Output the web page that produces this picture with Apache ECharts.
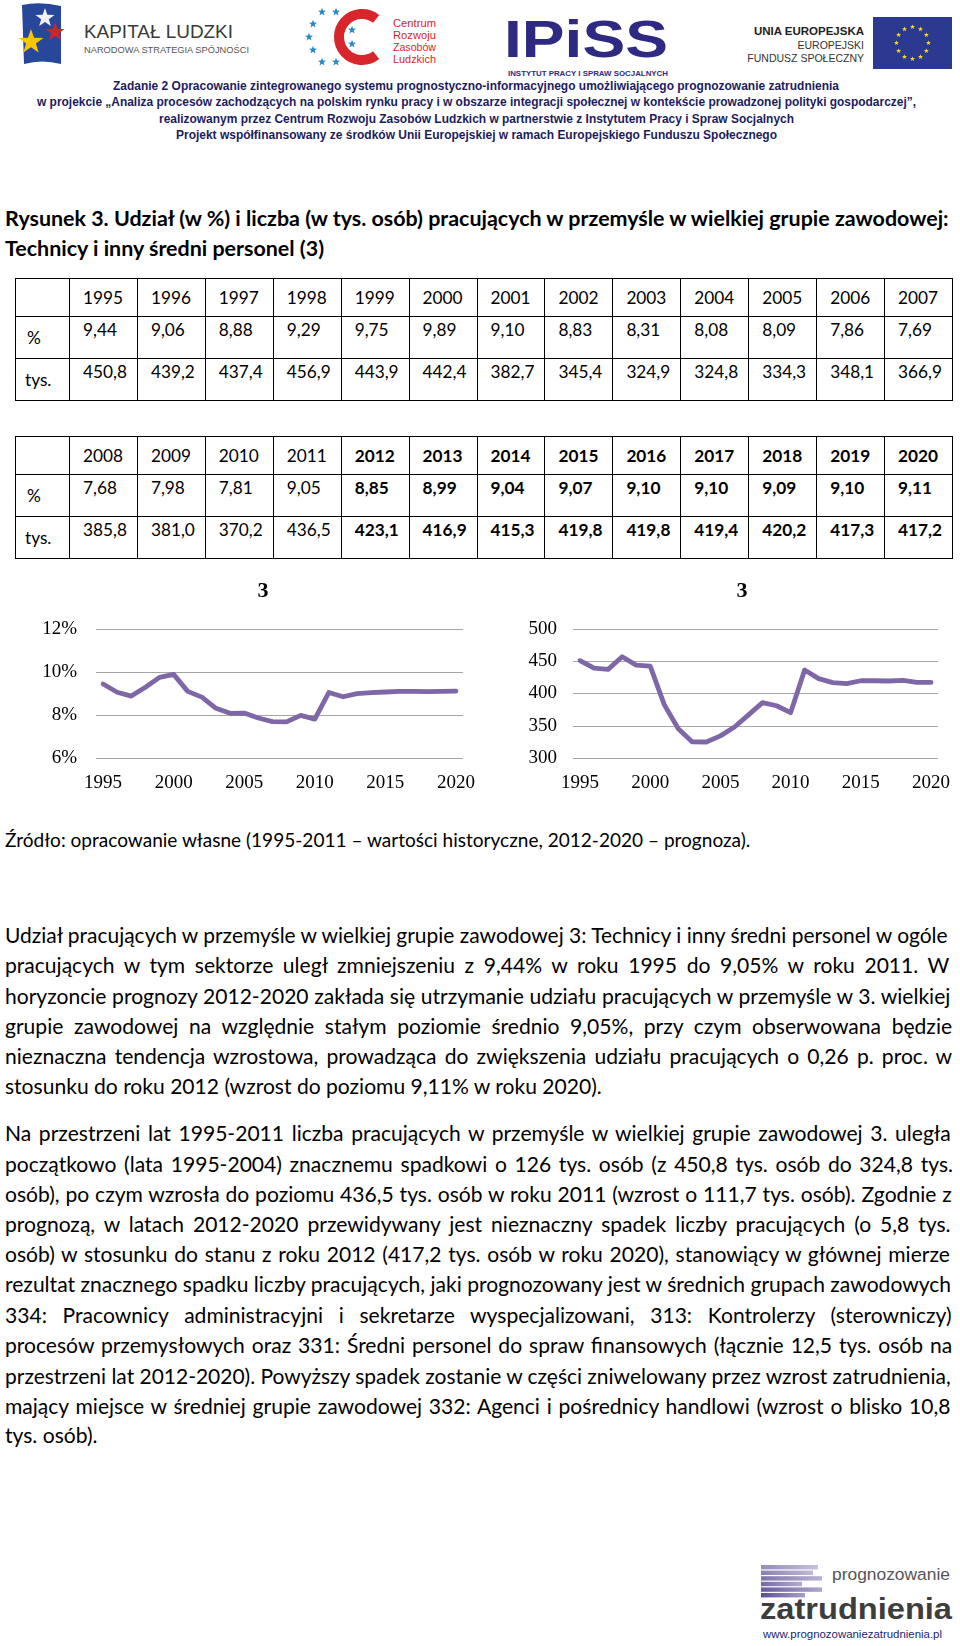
<!DOCTYPE html>
<html><head><meta charset="utf-8">
<script src="https://cdn.jsdelivr.net/npm/echarts@6/dist/echarts.min.js"></script>
<style>
html,body{margin:0;padding:0;background:#fff;width:960px;height:1646px;overflow:hidden;position:relative}
#deco{position:absolute;left:0;top:0;pointer-events:none}
.cell{position:absolute;box-sizing:border-box;border:1px solid #000;color:#000;white-space:nowrap;overflow:hidden}
</style></head><body>
<svg id="deco" width="960" height="1646" xmlns="http://www.w3.org/2000/svg"></svg>
<div id="chart" style="position:absolute;left:0;top:560px;width:960px;height:240px"></div>
<script>
// ---------- DATA ----------
const years = [1995,1996,1997,1998,1999,2000,2001,2002,2003,2004,2005,2006,2007,2008,2009,2010,2011,2012,2013,2014,2015,2016,2017,2018,2019,2020];
const pctValues = [9.44,9.06,8.88,9.29,9.75,9.89,9.10,8.83,8.31,8.08,8.09,7.86,7.69,7.68,7.98,7.81,9.05,8.85,8.99,9.04,9.07,9.10,9.10,9.09,9.10,9.11];
const tysValues = [450.8,439.2,437.4,456.9,443.9,442.4,382.7,345.4,324.9,324.8,334.3,348.1,366.9,385.8,381.0,370.2,436.5,423.1,416.9,415.3,419.8,419.8,419.4,420.2,417.3,417.2];
const forecastStart = 2012;
const pctTicks = [6,8,10,12];
const tysTicks = [300,350,400,450,500];
const chartTitle = '3';

// ---------- helpers ----------
const SANS = "'Lato', 'Carlito', sans-serif";
const NARROWF = "Liberation Sans Narrow, Liberation Sans, sans-serif";
const SERIF = "'Liberation Serif', 'Times New Roman', serif";
const mctx = document.createElement('canvas').getContext('2d');
function tw(text, font){ mctx.font = font; return mctx.measureText(text).width; }
function fitSize(text, weight, family, target){ return 100*target/tw(text, weight+' 100px '+family); }
function addLine(text, cy, o){
  let size = o.size;
  const f = s => `${o.weight||400} ${s}px ${o.family}`;
  let nat = tw(text, f(size));
  if (nat > o.width) { size *= o.width/nat; nat = tw(text, f(size)); }
  let ws = 0;
  if (o.justify){ const n=(text.match(/ /g)||[]).length; if(n) ws=(o.width-nat)/n; }
  const d=document.createElement('div');
  d.style.cssText=`position:absolute;left:${o.left}px;top:${cy-15}px;height:30px;line-height:30px;white-space:nowrap;font:${f(size)};word-spacing:${ws}px;color:#000`;
  d.textContent=text; document.body.appendChild(d);
}
function star(cx,cy,R,r,rot){ rot = rot==null?-90:rot; const p=[]; for(let i=0;i<10;i++){const a=(rot+i*36)*Math.PI/180;const rr=i%2?r:R;p.push((cx+rr*Math.cos(a)).toFixed(2)+','+(cy+rr*Math.sin(a)).toFixed(2));} return p.join(' '); }
// svg text, font size fitted so natural width equals target length
function st(text, x, y, fam, weight, len, fill, maxSize, anchor){
  let size = fitSize(text, weight, fam, len);
  if (maxSize && size > maxSize) size = maxSize;
  return `<text x="${x}" y="${y}" ${anchor?`text-anchor="${anchor}"`:''} font-family="${fam}" font-weight="${weight}" font-size="${size.toFixed(2)}" fill="${fill}" textLength="${len}" lengthAdjust="spacingAndGlyphs">${text}</text>`;
}

// ---------- decorative SVG (logos, header) ----------
let s = '';
// Kapitał Ludzki
s += `<path d="M22,5 Q40,1 61,6 L61,64 Q42,59 24,64 Z" fill="#27479b"/>`;
s += `<polygon points="${star(45,18,10,4)}" fill="#f2f2f2"/>`;
s += `<polygon points="${star(55,32,10,4)}" fill="#d3232a"/>`;
s += `<polygon points="${star(31,42,13,5.2)}" fill="#f7c600"/>`;
s += st('KAPITAŁ LUDZKI', 84, 38, NARROWF, 400, 149, '#3a3a3a', 20);
s += st('NARODOWA STRATEGIA SPÓJNOŚCI', 84, 53, NARROWF, 400, 165, '#555', 10.5);
// CRZL
(function(){
  const cx=362, cy=37, r=23;
  const a1=-52*Math.PI/180, a2=52*Math.PI/180;
  s += `<path d="M${cx+r*Math.cos(a1)},${cy+r*Math.sin(a1)} A${r},${r} 0 1 0 ${cx+r*Math.cos(a2)},${cy+r*Math.sin(a2)}" fill="none" stroke="#d7262c" stroke-width="10"/>`;
  const pts=[[322,12],[336,12],[313,24],[309,37],[313,50],[322,62],[336,62],[352,30],[352,44]];
  pts.forEach(p=>{ s += `<polygon points="${star(p[0],p[1],4.2,1.8)}" fill="#2a8ac8"/>`; });
  ['Centrum','Rozwoju','Zasobów','Ludzkich'].forEach((t,i)=>{
    s += st(t, 393, 27+i*12, 'Liberation Sans', 400, 43, '#d7262c', 10);
  });
})();
// IPiSS
s += `<text x="504" y="57" font-family="${NARROWF}" font-weight="bold" font-size="52" fill="#2e2a82" textLength="164" lengthAdjust="spacingAndGlyphs">IPiSS</text>`;
s += st('INSTYTUT PRACY I SPRAW SOCJALNYCH', 508, 76, NARROWF, 700, 160, '#2e2a82', 8.5);
// EU
s += `<text x="864" y="35" text-anchor="end" font-family="${NARROWF}" font-weight="bold" font-size="11.5" fill="#222">UNIA EUROPEJSKA</text>`;
s += `<text x="864" y="49" text-anchor="end" font-family="${NARROWF}" font-size="10.5" fill="#333">EUROPEJSKI</text>`;
s += `<text x="864" y="62" text-anchor="end" font-family="${NARROWF}" font-size="10.5" fill="#333">FUNDUSZ SPOŁECZNY</text>`;
s += `<rect x="873" y="17" width="79" height="52" fill="#2b3990"/>`;
for(let i=0;i<12;i++){ const a=i*30*Math.PI/180; s += `<polygon points="${star(912.5+16*Math.cos(a),43+16*Math.sin(a),2.6,1.1)}" fill="#ffdd00"/>`; }
// project header lines
const hdr = [
  ['Zadanie 2 Opracowanie zintegrowanego systemu prognostyczno-informacyjnego umożliwiającego prognozowanie zatrudnienia',113,726,89.5],
  ['w projekcie „Analiza procesów zachodzących na polskim rynku pracy i w obszarze integracji społecznej w kontekście prowadzonej polityki gospodarczej”,',37,879,106],
  ['realizowanym przez Centrum Rozwoju Zasobów Ludzkich w partnerstwie z Instytutem Pracy i Spraw Socjalnych',159,635,122.5],
  ['Projekt współfinansowany ze środków Unii Europejskiej w ramach Europejskiego Funduszu Społecznego',176,601,138.5]
];
hdr.forEach(h=>{ s += st(h[0], h[1], h[3], NARROWF, 700, h[2], '#1c1c5c', 13); });
// footer logo
s += `<defs><linearGradient id="bg" x1="0" x2="1" y1="0" y2="0"><stop offset="0" stop-color="#5e4f92"/><stop offset="1" stop-color="#a99fc9"/></linearGradient></defs>`;
[57,52,61,41,61,44].forEach((w,i)=>{ s += `<rect x="761" y="${1565+i*5.6}" width="${w}" height="4.4" fill="url(#bg)" opacity="${0.65+i*0.07}"/>`; });
s += st('prognozowanie', 832, 1580, NARROWF, 400, 118, '#555', 22);
s += st('zatrudnienia', 760, 1619, 'Liberation Sans', 700, 192, '#3d3d3d', 30);
s += st('www.prognozowaniezatrudnienia.pl', 763, 1638, 'Liberation Sans', 400, 179, '#1c1f6e', 13);
document.getElementById('deco').innerHTML = s;

// ---------- caption ----------
const cap1 = 'Rysunek 3. Udział (w %) i liczba (w tys. osób) pracujących w przemyśle w wielkiej grupie zawodowej:';
const capSize = fitSize(cap1, 700, SANS, 948);
addLine(cap1, 220, {family:SANS, weight:700, size:capSize, left:5, width:948, justify:false});
addLine('Technicy i inny średni personel (3)', 250, {family:SANS, weight:700, size:capSize, left:5, width:948});

// ---------- tables ----------
const tSize = fitSize('1995', 400, SANS, 40);
function fmt(v, d){ return v.toFixed(d).replace('.', ','); }
function cell(x,y,w,h,text,opt){
  const d=document.createElement('div'); d.className='cell';
  d.style.left=x+'px'; d.style.top=y+'px'; d.style.width=(w+1)+'px'; d.style.height=(h+1)+'px';
  d.style.font=`${opt.bold?700:400} ${tSize}px ${SANS}`;
  d.style.paddingLeft=(opt.pad||13)+'px';
  if(opt.middle){ d.style.lineHeight=(h-1)+'px'; } else { d.style.lineHeight='20px'; d.style.paddingTop='3px'; }
  d.textContent=text; document.body.appendChild(d);
}
function drawTable(top, i0, i1){
  const x0=15, x1=69, cw=(952-69)/13, rows=[top, top+38, top+80, top+122];
  cell(x0,rows[0],x1-x0,38,'',{middle:true});
  cell(x0,rows[1],x1-x0,42,'%',{middle:true,pad:11});
  cell(x0,rows[2],x1-x0,42,'tys.',{middle:true,pad:9});
  for(let i=i0;i<i1;i++){
    const x=x1+(i-i0)*cw, b=years[i]>=forecastStart;
    cell(x,rows[0],cw,38,String(years[i]),{middle:true,bold:b});
    cell(x,rows[1],cw,42,fmt(pctValues[i],2),{bold:b});
    cell(x,rows[2],cw,42,fmt(tysValues[i],1),{bold:b});
  }
}
drawTable(278, 0, 13);
drawTable(436, 13, 26);

// ---------- source + body ----------
const src = 'Źródło: opracowanie własne (1995-2011 – wartości historyczne, 2012-2020 – prognoza).';
addLine(src, 843, {family:SANS, size:fitSize(src,400,SANS,747), left:5, width:948});
const bodySize = fitSize('stosunku do roku 2012 (wzrost do poziomu 9,11% w roku 2020).', 400, SANS, 598);
const p1 = [
 'Udział pracujących w przemyśle w wielkiej grupie zawodowej 3: Technicy i inny średni personel w ogóle',
 'pracujących w tym sektorze uległ zmniejszeniu z 9,44% w roku 1995 do 9,05% w roku 2011. W',
 'horyzoncie prognozy 2012-2020 zakłada się utrzymanie udziału pracujących w przemyśle w 3. wielkiej',
 'grupie zawodowej na względnie stałym poziomie średnio 9,05%, przy czym obserwowana będzie',
 'nieznaczna tendencja wzrostowa, prowadząca do zwiększenia udziału pracujących o 0,26 p. proc. w',
 'stosunku do roku 2012 (wzrost do poziomu 9,11% w roku 2020).'];
const p1y = [937,967,998,1028,1058,1088];
const p2 = [
 'Na przestrzeni lat 1995-2011 liczba pracujących w przemyśle w wielkiej grupie zawodowej 3. uległa',
 'początkowo (lata 1995-2004) znacznemu spadkowi o 126 tys. osób (z 450,8 tys. osób do 324,8 tys.',
 'osób), po czym wzrosła do poziomu 436,5 tys. osób w roku 2011 (wzrost o 111,7 tys. osób). Zgodnie z',
 'prognozą, w latach 2012-2020 przewidywany jest nieznaczny spadek liczby pracujących (o 5,8 tys.',
 'osób) w stosunku do stanu z roku 2012 (417,2 tys. osób w roku 2020), stanowiący w głównej mierze',
 'rezultat znacznego spadku liczby pracujących, jaki prognozowany jest w średnich grupach zawodowych',
 '334: Pracownicy administracyjni i sekretarze wyspecjalizowani, 313: Kontrolerzy (sterowniczy)',
 'procesów przemysłowych oraz 331: Średni personel do spraw finansowych (łącznie 12,5 tys. osób na',
 'przestrzeni lat 2012-2020). Powyższy spadek zostanie w części zniwelowany przez wzrost zatrudnienia,',
 'mający miejsce w średniej grupie zawodowej 332: Agenci i pośrednicy handlowi (wzrost o blisko 10,8',
 'tys. osób).'];
const p2y = [1135,1166,1196,1226,1256,1286,1317,1347,1378,1408,1437];
p1.forEach((t,i)=>addLine(t,p1y[i],{family:SANS,size:bodySize,left:5,width:948,justify:i<p1.length-1}));
p2.forEach((t,i)=>addLine(t,p2y[i],{family:SANS,size:bodySize,left:5,width:948,justify:i<p2.length-1}));

// ---------- charts ----------
const chart = echarts.init(document.getElementById('chart'), null, {renderer:'canvas'});
const lineColor = '#7f66a6';
function xAx(g){ return {gridIndex:g,type:'category',data:years.map(String),boundaryGap:true,
  axisLine:{show:false},axisTick:{show:false},splitLine:{show:false},
  axisLabel:{interval:4,margin:16,fontFamily:SERIF,fontSize:19,color:'#000'}}; }
function yAx(g,ticks,fmtr,margin){ return {gridIndex:g,type:'value',min:ticks[0],max:ticks[ticks.length-1],interval:ticks[1]-ticks[0],
  axisLine:{show:false},axisTick:{show:false},
  splitLine:{show:true,lineStyle:{color:'#a6a6a6',width:1}},
  axisLabel:{formatter:fmtr,margin:margin,fontFamily:SERIF,fontSize:19,color:'#000'}}; }
chart.setOption({
  animation:false,
  grid:[{left:96,top:69,width:367,height:129,containLabel:false,outerBoundsMode:'none'},
        {left:573,top:69,width:365,height:129,containLabel:false,outerBoundsMode:'none'}],
  xAxis:[xAx(0),xAx(1)],
  yAxis:[yAx(0,pctTicks,'{value}%',19),yAx(1,tysTicks,'{value}',16)],
  series:[
    {type:'line',xAxisIndex:0,yAxisIndex:0,data:pctValues,symbol:'none',silent:true,
      lineStyle:{color:lineColor,width:4.8,cap:'round',join:'round'}},
    {type:'line',xAxisIndex:1,yAxisIndex:1,data:tysValues,symbol:'none',silent:true,
      lineStyle:{color:lineColor,width:4.8,cap:'round',join:'round'}}
  ],
  graphic:[
    {type:'text',x:263,y:31,style:{text:chartTitle,font:`bold 22px ${SERIF}`,textAlign:'center',textVerticalAlign:'middle',fill:'#000'}},
    {type:'text',x:742,y:31,style:{text:chartTitle,font:`bold 22px ${SERIF}`,textAlign:'center',textVerticalAlign:'middle',fill:'#000'}}
  ]
});
</script>
</body></html>
